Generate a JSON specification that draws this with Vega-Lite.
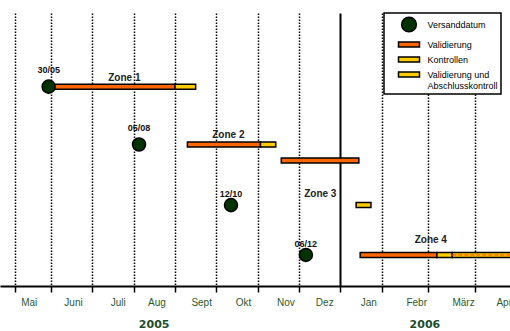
{
  "$schema": "https://vega.github.io/schema/vega-lite/v6.json",
  "width": 510,
  "height": 273,
  "autosize": "none",
  "padding": {"left": 0, "top": 13, "right": 0, "bottom": 45},
  "config": {"view": {"stroke": null}, "font": "Liberation Sans"},
  "datasets": {
    "bars": [
      {"zone": "Zone 1", "type": "Validierung", "start": "2005-05-30", "end": "2005-09-01", "row": 7.76},
      {"zone": "Zone 1", "type": "Kontrollen", "start": "2005-09-01", "end": "2005-09-16", "row": 7.76},
      {"zone": "Zone 2", "type": "Validierung", "start": "2005-09-10", "end": "2005-11-03", "row": 5.45},
      {"zone": "Zone 2", "type": "Kontrollen", "start": "2005-11-03", "end": "2005-11-14", "row": 5.45},
      {"zone": "Zone 3", "type": "Validierung", "start": "2005-11-18", "end": "2006-01-15", "row": 4.81},
      {"zone": "Zone 3", "type": "Kontrollen", "start": "2006-01-13", "end": "2006-01-24", "row": 3.03},
      {"zone": "Zone 4", "type": "Validierung", "start": "2006-01-16", "end": "2006-03-07", "row": 1.04},
      {"zone": "Zone 4", "type": "Kontrollen", "start": "2006-03-07", "end": "2006-03-17", "row": 1.04},
      {"zone": "Zone 4", "type": "Validierung und Abschlusskontroll", "start": "2006-03-17", "end": "2006-04-30", "row": 1.04}
    ],
    "points": [
      {"type": "Versanddatum", "date": "2005-05-30", "row": 7.76, "label": "30/05", "ly": 8.41},
      {"type": "Versanddatum", "date": "2005-08-05", "row": 5.45, "label": "05/08", "ly": 6.10},
      {"type": "Versanddatum", "date": "2005-10-12", "row": 3.03, "label": "12/10", "ly": 3.47},
      {"type": "Versanddatum", "date": "2005-12-06", "row": 1.04, "label": "06/12", "ly": 1.49}
    ],
    "zones": [
      {"zone": "Zone 1", "date": "2005-07-25", "ly": 8.12},
      {"zone": "Zone 2", "date": "2005-10-10", "ly": 5.81},
      {"zone": "Zone 3", "date": "2005-12-17", "ly": 3.47},
      {"zone": "Zone 4", "date": "2006-03-03", "ly": 1.62}
    ]
  },
  "resolve": {"axis": {"x": "independent"}},
  "layer": [
    {
      "data": {"name": "bars"},
      "mark": {"type": "bar", "size": 5, "stroke": "black", "strokeWidth": 1.5},
      "encoding": {
        "x": {
          "field": "start", "type": "temporal",
          "scale": {
            "nice": false,
            "domainRaw": {"expr": "[utc(2005,3,19), utc(2005,4,1), utc(2005,5,1), utc(2005,6,1), utc(2005,7,1), utc(2005,8,1), utc(2005,9,1), utc(2005,10,1), utc(2005,11,1), utc(2006,0,1), utc(2006,1,1), utc(2006,2,1), utc(2006,3,1), utc(2006,3,23)]"},
            "range": [0, 14.7, 51, 92.3, 133.7, 175, 216.3, 257.7, 299.3, 340, 381.7, 427.7, 475.3, 510]
          },
          "axis": {
            "orient": "bottom",
            "title": null,
            "labels": false,
            "values": [
              {"year": 2005, "month": 5, "date": 1, "utc": true},
              {"year": 2005, "month": 6, "date": 1, "utc": true},
              {"year": 2005, "month": 7, "date": 1, "utc": true},
              {"year": 2005, "month": 8, "date": 1, "utc": true},
              {"year": 2005, "month": 9, "date": 1, "utc": true},
              {"year": 2005, "month": 10, "date": 1, "utc": true},
              {"year": 2005, "month": 11, "date": 1, "utc": true},
              {"year": 2005, "month": 12, "date": 1, "utc": true},
              {"year": 2006, "month": 1, "date": 1, "utc": true},
              {"year": 2006, "month": 2, "date": 1, "utc": true},
              {"year": 2006, "month": 3, "date": 1, "utc": true},
              {"year": 2006, "month": 4, "date": 1, "utc": true}
            ],
            "domainColor": "black", "domainWidth": 2,
            "ticks": true, "tickColor": "black", "tickWidth": 1.5, "tickSize": 6,
            "grid": true, "gridColor": "black",
            "gridWidth": {"condition": {"test": "utcmonth(datum.value) === 0", "value": 2}, "value": 1.5},
            "gridDash": {"condition": {"test": "utcmonth(datum.value) === 0", "value": []}, "value": [1.5, 1.5]}
          }
        },
        "x2": {"field": "end"},
        "y": {"field": "row", "type": "quantitative", "scale": {"domain": [0, 10.5], "nice": false, "zero": false}, "axis": null},
        "color": {
          "field": "type", "type": "nominal",
          "scale": {
            "domain": ["Versanddatum", "Validierung", "Kontrollen", "Validierung und Abschlusskontroll"],
            "range": ["#003300", "#FF6600", "#FFCC00", "#FFCC00"]
          },
          "legend": {
            "title": null,
            "orient": "none",
            "legendX": 384,
            "legendY": 0,
            "fillColor": "white",
            "strokeColor": "black",
            "padding": 3,
            "symbolOffset": 13.5,
            "symbolSize": 225,
            "symbolStrokeColor": "black",
            "symbolStrokeWidth": 1.5,
            "labelFont": "Liberation Sans",
            "labelFontSize": 9,
            "labelColor": "black",
            "labelOffset": 10,
            "labelLimit": 200,
            "rowPadding": 1,
            "labelExpr": "datum.label === 'Validierung und Abschlusskontroll' ? ['Validierung und', 'Abschlusskontroll'] : datum.label",
            "encode": {
              "legend": {"update": {"strokeWidth": {"value": 1.5}}},
              "symbols": {
                "update": {
                  "shape": {"signal": "datum.value === 'Versanddatum' ? 'M-0.98,0A0.98,0.98 0 1,1 0.98,0A0.98,0.98 0 1,1 -0.98,0Z' : 'M-1.4,-0.33H1.4V0.33H-1.4Z'"},
                  "stroke": {"value": "black"},
                  "strokeWidth": {"value": 1.5},
                  "opacity": {"value": 1}
                }
              }
            }
          }
        }
      }
    },
    {
      "data": {"name": "bars"},
      "transform": [{"filter": "datum.type === 'Validierung und Abschlusskontroll'"}],
      "mark": {"type": "rule", "color": "#FF6600", "strokeWidth": 1.5, "strokeDash": [4, 2]},
      "encoding": {
        "x": {"field": "start", "type": "temporal", "axis": null},
        "x2": {"field": "end"},
        "y": {"field": "row", "type": "quantitative", "axis": null}
      }
    },
    {
      "data": {"name": "points"},
      "mark": {"type": "circle", "size": 170, "stroke": "black", "strokeWidth": 1.5, "opacity": 1},
      "encoding": {
        "x": {"field": "date", "type": "temporal", "axis": null},
        "y": {"field": "row", "type": "quantitative", "axis": null},
        "color": {"field": "type", "type": "nominal"}
      }
    },
    {
      "data": {"name": "points"},
      "mark": {"type": "text", "font": "Liberation Sans", "fontSize": 9, "fontWeight": "bold", "color": "#111111", "baseline": "middle"},
      "encoding": {
        "x": {
          "field": "date", "type": "temporal",
          "axis": {
            "orient": "bottom",
            "title": null, "domain": false, "ticks": false, "tickSize": 0, "grid": false,
            "values": [
              {"year": 2005, "month": 5, "date": 13, "utc": true},
              {"year": 2005, "month": 6, "date": 17, "utc": true},
              {"year": 2005, "month": 7, "date": 20, "utc": true},
              {"year": 2005, "month": 8, "date": 18, "utc": true},
              {"year": 2005, "month": 9, "date": 20, "utc": true},
              {"year": 2005, "month": 10, "date": 21, "utc": true},
              {"year": 2005, "month": 11, "date": 21, "utc": true},
              {"year": 2005, "month": 12, "date": 20, "utc": true},
              {"year": 2006, "month": 1, "date": 22, "utc": true},
              {"year": 2006, "month": 2, "date": 22, "utc": true},
              {"year": 2006, "month": 3, "date": 24, "utc": true},
              {"year": 2006, "month": 4, "date": 19, "utc": true}
            ],
            "labelExpr": "['Jan','Febr','März','Apr','Mai','Juni','Juli','Aug','Sept','Okt','Nov','Dez'][utcmonth(datum.value)]",
            "labelFont": "Liberation Sans", "labelFontSize": 10, "labelColor": "#2d5a2d",
            "labelPadding": 11, "labelOverlap": false, "labelFlush": false, "labelBound": false
          }
        },
        "y": {"field": "ly", "type": "quantitative", "axis": null},
        "text": {"field": "label"}
      }
    },
    {
      "data": {"name": "zones"},
      "mark": {"type": "text", "font": "Liberation Sans", "fontSize": 10, "fontWeight": "bold", "color": "#222222", "baseline": "middle"},
      "encoding": {
        "x": {
          "field": "date", "type": "temporal",
          "axis": {
            "orient": "bottom",
            "title": null, "domain": false, "ticks": false, "tickSize": 0, "grid": false,
            "values": [
              {"year": 2005, "month": 8, "date": 16, "utc": true},
              {"year": 2006, "month": 2, "date": 27, "utc": true}
            ],
            "labelExpr": "'' + utcyear(datum.value)",
            "labelFont": "DejaVu Sans", "labelFontSize": 11, "labelFontWeight": "bold", "labelColor": "#1e4d2b",
            "labelPadding": 32, "labelOverlap": false, "labelFlush": false, "labelBound": false
          }
        },
        "y": {"field": "ly", "type": "quantitative", "axis": null},
        "text": {"field": "zone"}
      }
    }
  ]
}
